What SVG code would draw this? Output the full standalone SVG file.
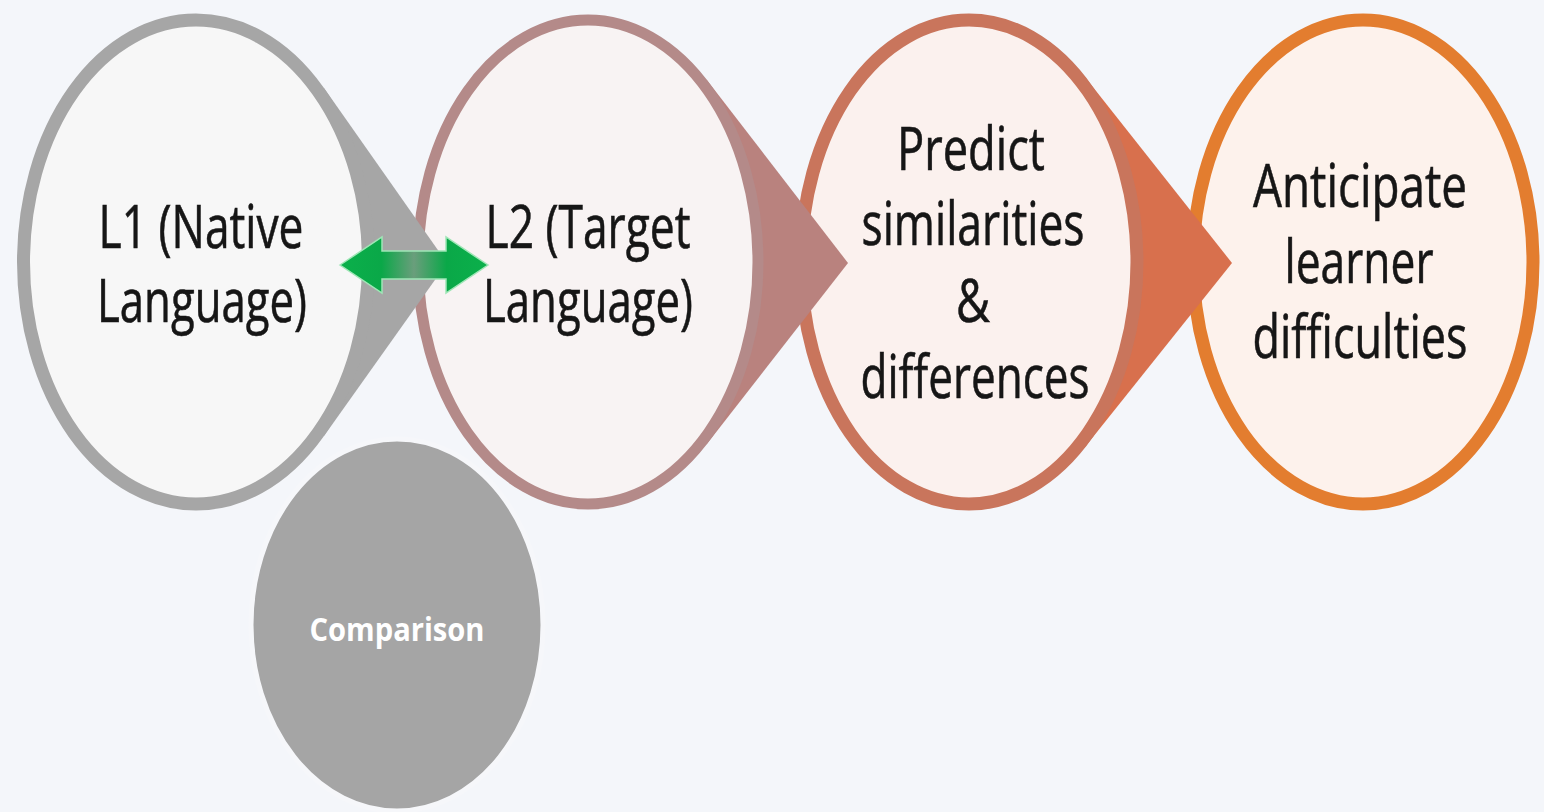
<svg xmlns="http://www.w3.org/2000/svg" width="1544" height="812" viewBox="0 0 1544 812">
  <defs>
    <linearGradient id="arrowGrad" x1="340" y1="0" x2="488" y2="0" gradientUnits="userSpaceOnUse">
      <stop offset="0" stop-color="#0bb04b"/>
      <stop offset="0.28" stop-color="#0aa848"/>
      <stop offset="0.5" stop-color="#6a9e7c"/>
      <stop offset="0.72" stop-color="#0aa848"/>
      <stop offset="1" stop-color="#0bb04b"/>
    </linearGradient>
  </defs>
  <style>
    .lbl { font-family: "Open Sans", "Noto Sans", "Liberation Sans", sans-serif; font-size: 60px; fill: #161616; stroke: #161616; stroke-width: 0.6px; text-anchor: middle; }
    .cmp { font-family: "Open Sans", "Noto Sans", "Liberation Sans", sans-serif; font-size: 32px; font-weight: bold; fill: #ffffff; text-anchor: middle; }
  </style>
  <rect x="0" y="0" width="1544" height="812" fill="#f4f6fa"/>

  <g id="node-l4">
    <ellipse cx="1363" cy="262" rx="170" ry="242" fill="#fdf2ec" stroke="#e37d2f" stroke-width="13"/>
    <text class="lbl" x="1360" y="207" textLength="214" lengthAdjust="spacingAndGlyphs">Anticipate</text>
    <text class="lbl" x="1359" y="283" textLength="149" lengthAdjust="spacingAndGlyphs">learner</text>
    <text class="lbl" x="1360" y="358" textLength="215" lengthAdjust="spacingAndGlyphs">difficulties</text>
  </g>

  <g id="node-l3">
    <path d="M1084 75.7 L1232 263 L1084 448.3 L969 262 Z" fill="#d8704d"/>
    <ellipse cx="969" cy="262" rx="168" ry="242" fill="#fbf1ee" stroke="#c9755c" stroke-width="13"/>
    <text class="lbl" x="971" y="170" textLength="148" lengthAdjust="spacingAndGlyphs">Predict</text>
    <text class="lbl" x="973" y="245" textLength="223" lengthAdjust="spacingAndGlyphs">similarities</text>
    <text class="lbl" x="973" y="322" textLength="34" lengthAdjust="spacingAndGlyphs">&amp;</text>
    <text class="lbl" x="975" y="398" textLength="229" lengthAdjust="spacingAndGlyphs">differences</text>
  </g>

  <g id="node-l2">
    <path d="M706.5 79.4 L848 263 L706.5 444.6 L588 262 Z" fill="#b9827e"/>
    <ellipse cx="588" cy="262" rx="170" ry="242" fill="#f8f3f3" stroke="#b48a89" stroke-width="11"/>
    <text class="lbl" x="588" y="248" textLength="205" lengthAdjust="spacingAndGlyphs">L2 (Target</text>
    <text class="lbl" x="588" y="322" textLength="210" lengthAdjust="spacingAndGlyphs">Language)</text>
  </g>

  <g id="node-l1">
    <path d="M324 88 L447 263 L324 436 L196 262 Z" fill="#a6a6a6"/>
    <ellipse cx="196" cy="262" rx="172.5" ry="242" fill="#f7f7f7" stroke="#a6a6a6" stroke-width="13"/>
    <text class="lbl" x="201" y="248" textLength="205" lengthAdjust="spacingAndGlyphs">L1 (Native</text>
    <text class="lbl" x="202" y="322" textLength="210" lengthAdjust="spacingAndGlyphs">Language)</text>
  </g>

  <g id="connectors">
    <polygon points="340,265 382,237 382,251 446,251 446,237 488,265 446,293 446,279 382,279 382,293" fill="url(#arrowGrad)" stroke="#9fe6b6" stroke-width="1.5" stroke-linejoin="miter"/>
  </g>

  <g id="node-comparison">
    <ellipse cx="397" cy="625" rx="146" ry="186" fill="#a5a5a5" stroke="#f6f7fa" stroke-width="5"/>
    <text class="cmp" x="397" y="641" textLength="175" lengthAdjust="spacingAndGlyphs">Comparison</text>
  </g>
</svg>
